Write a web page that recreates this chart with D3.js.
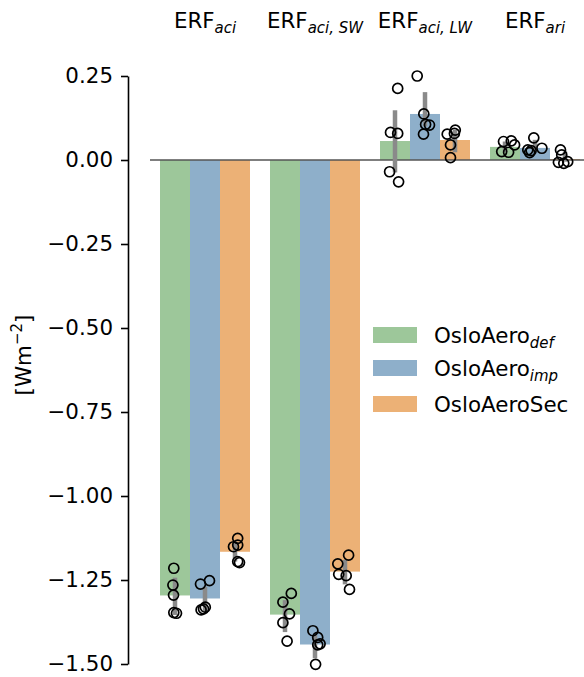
<!DOCTYPE html>
<html>
<head>
<meta charset="utf-8">
<script src="https://cdn.jsdelivr.net/npm/d3@7"></script>
<style>
  html, body { margin: 0; padding: 0; background: #fff; }
  svg { display: block; font-family: "DejaVu Sans", sans-serif; }
</style>
</head>
<body>
<svg id="chart" width="584" height="677"></svg>
<script>
// ---- data ----
const metrics = ["aci", "aciSW", "aciLW", "ari"];
const metricSubs = ["aci", "aci, SW", "aci, LW", "ari"];
const series = ["def", "imp", "sec"];
const seriesLabels = [["OsloAero", "def"], ["OsloAero", "imp"], ["OsloAeroSec", ""]];
const seriesColors = ["#9dc79a", "#8eafca", "#ecb176"];
const yTicks = [-1.5, -1.25, -1.0, -0.75, -0.5, -0.25, 0.0, 0.25];

// bar means, per metric: [def, imp, sec]
const meanAci   = [-1.296, -1.305, -1.166];
const meanAciSW = [-1.353, -1.442, -1.225];
const meanAciLW = [0.0565, 0.137, 0.0595];
const meanAri   = [0.039, 0.036, 0.003];

// error bar extents [low, high]
const errAci   = [[-1.354, -1.243], [-1.344, -1.270], [-1.195, -1.135]];
const errAciSW = [[-1.405, -1.310], [-1.483, -1.414], [-1.263, -1.190]];
const errAciLW = [[-0.037, 0.148], [0.100, 0.202], [0.023, 0.090]];
const errAri   = [[0.024, 0.055], [0.025, 0.060], [-0.005, 0.025]];

// individual members: values and horizontal jitter (fraction of bar width)
const ptsAci = [
  [-1.215, -1.265, -1.295, -1.347, -1.349],
  [-1.252, -1.262, -1.339, -1.336, -1.331],
  [-1.126, -1.151, -1.146, -1.195, -1.198]];
const jitAci = [
  [-0.04, -0.07, -0.05, -0.04, 0.05],
  [0.15, -0.15, -0.13, -0.05, 0.01],
  [0.09, -0.05, 0.09, 0.09, 0.15]];
const ptsAciSW = [
  [-1.290, -1.316, -1.351, -1.377, -1.432],
  [-1.401, -1.421, -1.440, -1.443, -1.501],
  [-1.176, -1.202, -1.233, -1.237, -1.278]];
const jitAciSW = [
  [0.21, -0.07, 0.15, -0.07, 0.07],
  [-0.07, 0.09, 0.17, 0.09, 0.02],
  [0.12, -0.24, -0.21, 0.04, 0.15]];
const ptsAciLW = [
  [0.213, 0.082, 0.079, -0.035, -0.065],
  [0.250, 0.137, 0.106, 0.104, 0.077],
  [0.089, 0.079, 0.077, 0.045, 0.007]];
const jitAciLW = [
  [0.09, -0.15, 0.09, -0.18, 0.12],
  [-0.26, -0.04, 0.02, 0.15, -0.05],
  [0.01, -0.02, -0.26, -0.15, -0.15]];
const ptsAri = [
  [0.055, 0.057, 0.045, 0.025, 0.023],
  [0.066, 0.030, 0.028, 0.035, 0.022],
  [0.030, 0.015, -0.007, -0.010, -0.005]];
const jitAri = [
  [-0.05, 0.21, 0.32, -0.11, 0.12],
  [-0.04, -0.24, -0.13, 0.23, -0.18],
  [-0.15, -0.11, -0.22, -0.04, 0.09]];

const means = [meanAci, meanAciSW, meanAciLW, meanAri];
const errs = [errAci, errAciSW, errAciLW, errAri];
const pts = [ptsAci, ptsAciSW, ptsAciLW, ptsAri];
const jits = [jitAci, jitAciSW, jitAciLW, jitAri];

// ---- build records ----
const bars = [], errBars = [], points = [];
metrics.forEach((m, i) => {
  series.forEach((s, j) => {
    bars.push({m, s, j, v: means[i][j]});
    errBars.push({m, s, lo: errs[i][j][0], hi: errs[i][j][1]});
    pts[i][j].forEach((v, k) => points.push({m, s, v, jit: jits[i][j][k]}));
  });
});

// ---- scales ----
const svg = d3.select("#chart");
const FS = 21.4;
const x0 = d3.scaleBand().domain(metrics).range([150, 590]).paddingInner(0).paddingOuter(0);
const x1 = d3.scaleBand().domain(series).range([0, x0.bandwidth()]).paddingInner(0).paddingOuter(1/3);
const y = d3.scaleLinear().domain([-1.5, 0.25]).range([664, 76]);
const color = d3.scaleOrdinal().domain(series).range(seriesColors);

// bars
svg.append("g").selectAll("rect").data(bars).join("rect")
  .attr("x", d => x0(d.m) + x1(d.s))
  .attr("width", x1.bandwidth())
  .attr("y", d => Math.min(y(d.v), y(0)))
  .attr("height", d => Math.abs(y(d.v) - y(0)))
  .attr("fill", d => color(d.s));

// zero line
svg.append("line")
  .attr("x1", x0.range()[0]).attr("x2", x0.range()[1])
  .attr("y1", y(0)).attr("y2", y(0))
  .attr("stroke", "#555").attr("stroke-width", 1.3);

// error bars
svg.append("g").selectAll("line").data(errBars).join("line")
  .attr("x1", d => x0(d.m) + x1(d.s) + x1.bandwidth() / 2)
  .attr("x2", d => x0(d.m) + x1(d.s) + x1.bandwidth() / 2)
  .attr("y1", d => y(d.lo)).attr("y2", d => y(d.hi))
  .attr("stroke", "#8a8a8a").attr("stroke-width", 4.5);

// points
svg.append("g").selectAll("circle").data(points).join("circle")
  .attr("cx", d => x0(d.m) + x1(d.s) + x1.bandwidth() / 2 + d.jit * x1.bandwidth())
  .attr("cy", d => y(d.v))
  .attr("r", 5)
  .attr("fill", "none").attr("stroke", "#000").attr("stroke-width", 1.7);

// y axis
const yAxis = d3.axisLeft(y).tickValues(yTicks).tickFormat(d3.format(".2f"))
  .tickSize(7).tickSizeOuter(0).tickPadding(8);
const ga = svg.append("g").attr("transform", "translate(128,0)").call(yAxis);
ga.select(".domain").attr("stroke", "#000").attr("stroke-width", 1.6);
ga.selectAll(".tick line").attr("stroke", "#000").attr("stroke-width", 1.6);
ga.selectAll(".tick text").attr("font-size", FS).attr("font-family", "DejaVu Sans").attr("fill", "#000");

// y label
const yl = svg.append("text")
  .attr("transform", "translate(31,355) rotate(-90)")
  .attr("text-anchor", "middle").attr("font-size", FS).attr("fill", "#000");
yl.append("tspan").text("[Wm");
yl.append("tspan").attr("font-size", FS * 0.7).attr("dy", -FS * 0.4).text("−2");
yl.append("tspan").attr("dy", FS * 0.4).text("]");

// top category labels
metrics.forEach((m, i) => {
  const t = svg.append("text")
    .attr("x", x0(m) + x0.bandwidth() / 2).attr("y", 28)
    .attr("text-anchor", "middle").attr("font-size", FS).attr("fill", "#000");
  t.append("tspan").text("ERF");
  t.append("tspan").attr("font-size", FS * 0.7).attr("font-style", "italic")
    .attr("dy", FS * 0.25).text(metricSubs[i]);
});

// legend
const legTops = [327, 360, 396];
series.forEach((s, j) => {
  svg.append("rect").attr("x", 373).attr("y", legTops[j]).attr("width", 44).attr("height", 16)
    .attr("fill", color(s));
  const t = svg.append("text").attr("x", 434).attr("y", legTops[j] + 16)
    .attr("font-size", FS).attr("fill", "#000");
  t.append("tspan").text(seriesLabels[j][0]);
  if (seriesLabels[j][1]) {
    t.append("tspan").attr("font-size", FS * 0.7).attr("font-style", "italic")
      .attr("dy", FS * 0.25).text(seriesLabels[j][1]);
  }
});
</script>
</body>
</html>
